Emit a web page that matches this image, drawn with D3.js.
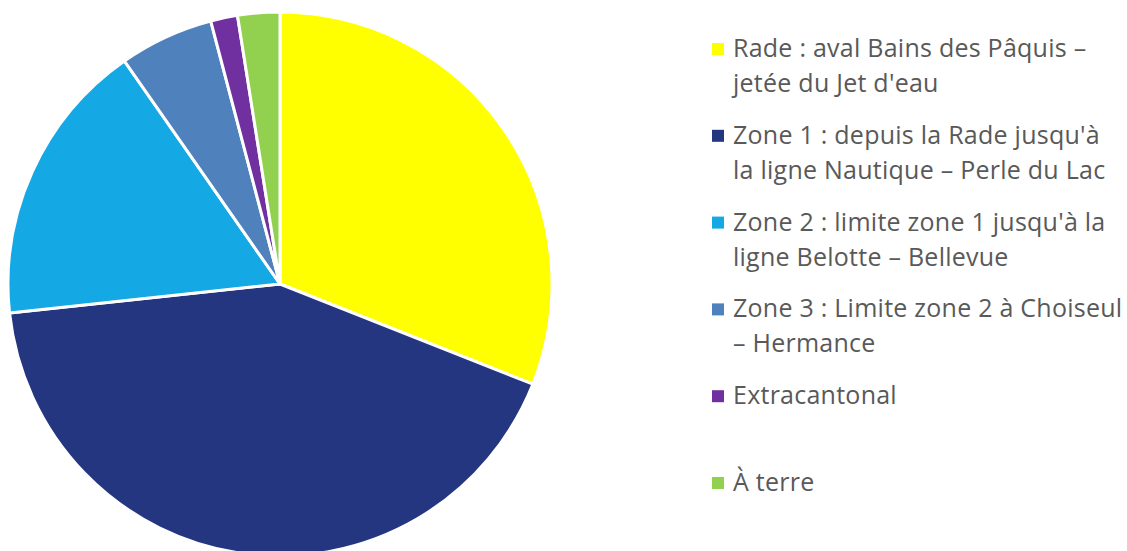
<!DOCTYPE html>
<html>
<head>
<meta charset="utf-8">
<script src="https://cdn.jsdelivr.net/npm/d3@7"></script>
<style>
  html, body { margin: 0; padding: 0; background: #fff; }
  svg { display: block; }
</style>
</head>
<body>
<svg id="chart"></svg>
<script>
const outerWidth = 1127;
const outerHeight = 551;

// slices, clockwise from 12 o'clock (percent)
const categories = [
    ["Rade : aval Bains des Pâquis –", "jetée du Jet d'eau"],
    ["Zone 1 : depuis la Rade jusqu'à", "la ligne Nautique – Perle du Lac"],
    ["Zone 2 : limite zone 1 jusqu'à la", "ligne Belotte – Bellevue"],
    ["Zone 3 : Limite zone 2 à Choiseul", "– Hermance"],
    ["Extracantonal"],
    ["À terre"]
];
const values = [31.0, 42.3, 17.0, 5.6, 1.6, 2.5];
const colors = ["#FFFF00", "#243680", "#14A9E5", "#4F81BD", "#7030A0", "#92D050"];

const cx = 280, cy = 284, radius = 272;

const svg = d3.select("#chart")
    .attr("width", outerWidth)
    .attr("height", outerHeight);

const pie = d3.pie().sort(null).value(d => d);
const arc = d3.arc().innerRadius(0).outerRadius(radius);

svg.append("g")
    .attr("transform", `translate(${cx},${cy})`)
    .selectAll("path")
    .data(pie(values))
    .enter().append("path")
    .attr("d", arc)
    .attr("fill", (d, i) => colors[i])
    .attr("stroke", "#fff")
    .attr("stroke-width", 3)
    .attr("stroke-linejoin", "round");

// legend
const markerX = 712;
const markerTop = 43;
const markerSize = 12;
const rowGap = 86.8;
const lineGap = 35;

const legend = svg.append("g");

categories.forEach((lines, i) => {
    const y = markerTop + i * rowGap;
    const item = legend.append("g");
    item.append("rect")
        .attr("x", markerX)
        .attr("y", y)
        .attr("width", markerSize)
        .attr("height", markerSize)
        .attr("fill", colors[i]);
    lines.forEach((t, j) => {
        item.append("text")
            .attr("x", 733)
            .attr("y", y + 14 + j * lineGap)
            .style("font-family", "'Open Sans', sans-serif")
            .style("font-size", "25px")
            .style("letter-spacing", "0.25px")
            .style("fill", "#595959")
            .text(t);
    });
});
</script>
</body>
</html>
